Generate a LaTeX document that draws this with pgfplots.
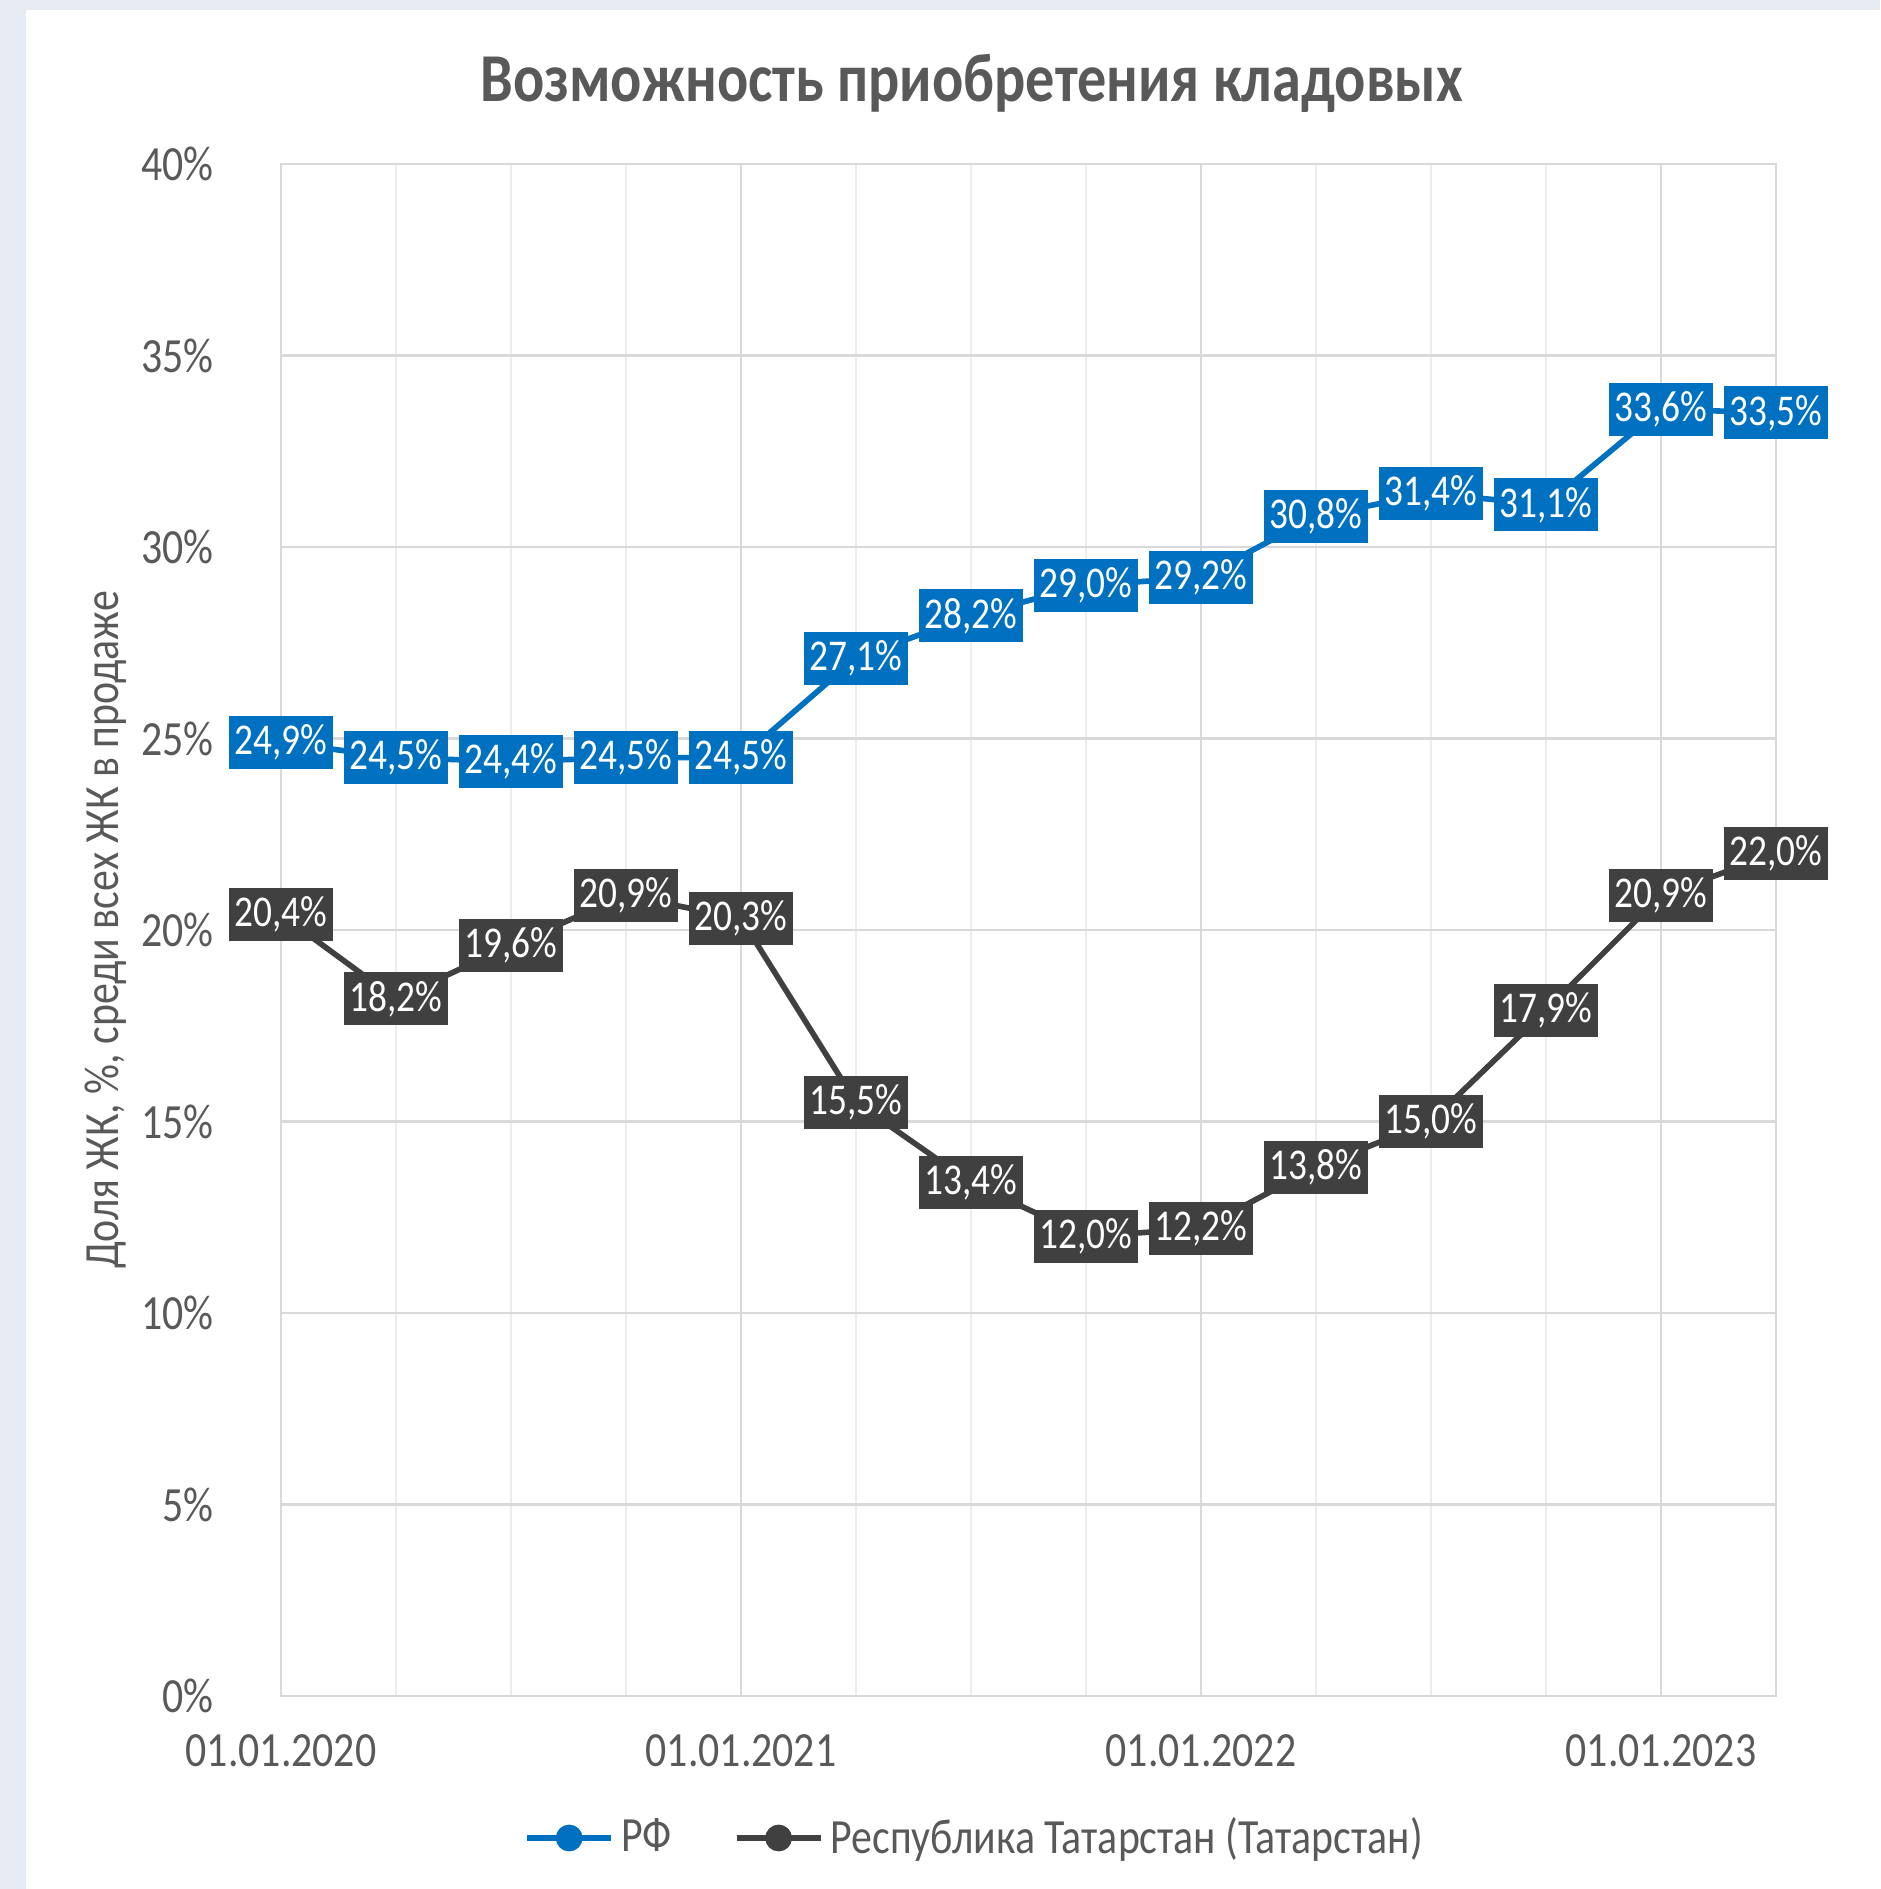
\documentclass[border=0pt]{standalone}
\usepackage{pgfplots}
\pgfplotsset{compat=1.18}
\usepackage{fontspec}
\setmainfont{Carlito}[FakeStretch=0.85]

\definecolor{rfblue}{HTML}{0070C0}
\definecolor{tatgray}{HTML}{404040}
\definecolor{txtgray}{HTML}{595959}
\definecolor{gridmaj}{HTML}{D9D9D9}
\definecolor{gridmin}{HTML}{EDEDED}
\definecolor{pagebg}{HTML}{E7EBF3}

\begin{document}
\begin{tikzpicture}
% frame around the chart
\fill[pagebg] (0,0) rectangle (188mm,188.9mm);
\fill[white] (2.6mm,0) rectangle (188mm,187.9mm);

\begin{axis}[
  at={(28.1mm,19.3mm)}, anchor=south west,
  scale only axis, width=149.5mm, height=153.2mm,
  xmin=0, xmax=13, ymin=0, ymax=40,
  xtick={0,4,8,12},
  xticklabels={01.01.2020,01.01.2021,01.01.2022,01.01.2023},
  minor xtick={1,2,3,5,6,7,9,10,11,13},
  ytick={0,5,...,40},
  yticklabel={\pgfmathprintnumber{\tick}\%},
  /pgf/number format/assume math mode=true,
  major tick length=0pt, minor tick length=0pt,
  grid=both,
  major grid style={draw=gridmaj, line width=0.8pt},
  minor grid style={draw=gridmin, line width=0.8pt},
  axis line style={draw=gridmaj, line width=0.8pt},
  tick label style={text=txtgray, font=\fontsize{14}{16}\selectfont},
  yticklabel style={anchor=east, inner sep=0pt, xshift=-6.7mm},
  xticklabel style={anchor=north, inner sep=0pt, yshift=-3.8mm},
  ylabel={Доля ЖК, \%, среди всех ЖК в продаже},
  ylabel style={at={(axis description cs:-0.117,0.5)}, anchor=center, rotate=0,
    text=txtgray, font=\fontsize{14}{16}\selectfont},
  title={Возможность приобретения кладовых},
  title style={at={(axis description cs:0.462,1.027)}, anchor=base,
    text=txtgray, font=\fontsize{19.5}{24}\bfseries},
  legend columns=2,
  legend style={at={(axis description cs:0.4656,-0.0927)}, anchor=center,
    draw=none, fill=none, text=txtgray, font=\fontsize{14}{16}\selectfont,
    /tikz/every even column/.append style={column sep=5.5mm}},
  legend image code/.code={
    \draw[#1, mark repeat=2, mark phase=2, mark size=3pt] plot coordinates {(0mm,0mm) (4.2mm,0mm) (8.4mm,0mm)};},
  nodes near coords={\pgfmathprintnumber[fixed,fixed zerofill,precision=1,use comma]{\pgfplotspointmeta}\%},
  clip=false,
]

\addplot[rfblue, line width=1.6pt, mark=*, mark size=2.5pt,
  nodes near coords style={anchor=center, fill=rfblue, text=white,
    inner xsep=0.6mm, inner ysep=0.4mm, minimum height=5.3mm,
    font=\fontsize{12.5}{15}\selectfont}]
coordinates {
(0,24.9) (1,24.5) (2,24.4) (3,24.5) (4,24.5) (5,27.1) (6,28.2)
(7,29.0) (8,29.2) (9,30.8) (10,31.4) (11,31.1) (12,33.6) (13,33.5)
};
\addlegendentry{РФ}

\addplot[tatgray, line width=1.6pt, mark=*, mark size=2.5pt,
  nodes near coords style={anchor=center, fill=tatgray, text=white,
    inner xsep=0.6mm, inner ysep=0.4mm, minimum height=5.3mm,
    font=\fontsize{12.5}{15}\selectfont}]
coordinates {
(0,20.4) (1,18.2) (2,19.6) (3,20.9) (4,20.3) (5,15.5) (6,13.4)
(7,12.0) (8,12.2) (9,13.8) (10,15.0) (11,17.9) (12,20.9) (13,22.0)
};
\addlegendentry{Республика Татарстан (Татарстан)}

\end{axis}
\end{tikzpicture}
\end{document}
